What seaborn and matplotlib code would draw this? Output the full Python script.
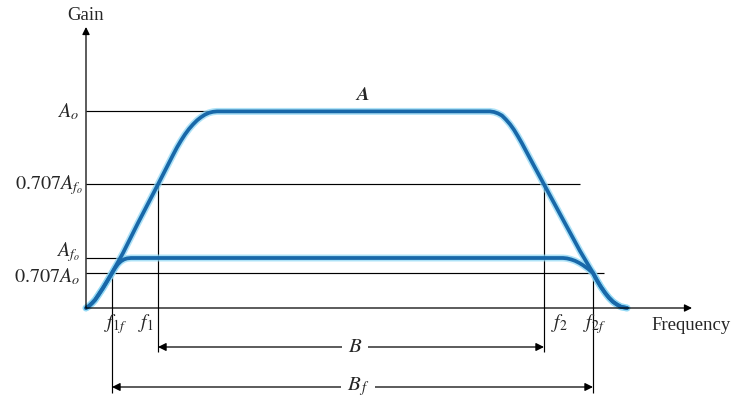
import matplotlib
matplotlib.use("Agg")
import matplotlib.pyplot as plt
import seaborn as sns
import pandas as pd

# Gain levels (arbitrary units, axis origin at 0)
level_names = ["A_o", "0.707A_fo", "A_fo", "0.707A_o"]
level_values = [9.83, 6.18, 2.5, 1.75]

# Frequency marks
freq_names = ["f1f", "f1", "f2", "f2f"]
freq_values = [2.6, 7.2, 45.8, 50.7]

# Open-loop response A
curve_a_freq = [0.0, 0.3, 0.6, 0.9, 1.2, 1.7, 2.1, 2.6, 3.7, 5.2, 7.2, 8.7,
                9.1, 9.5, 9.9, 10.3, 10.7, 11.1, 11.5, 11.9, 12.3, 12.7, 13.1,
                40.4, 40.8, 41.2, 41.6, 42.0, 42.4, 42.8, 43.2, 43.6, 44.4,
                45.8, 47.7, 49.4, 50.7, 51.1, 51.5, 51.9, 52.3, 52.7, 53.1,
                53.5, 54.1]
curve_a_gain = [0.0, 0.1, 0.24, 0.4, 0.62, 1.0, 1.33, 1.75, 2.75, 4.25, 6.18,
                7.65, 8.03, 8.37, 8.68, 8.95, 9.18, 9.38, 9.54, 9.67, 9.76,
                9.81, 9.83, 9.83, 9.8, 9.73, 9.62, 9.42, 9.19, 8.91, 8.58,
                8.23, 7.48, 6.18, 4.42, 2.85, 1.75, 1.38, 1.05, 0.76, 0.51,
                0.31, 0.17, 0.06, 0.0]

# Feedback response A_f
curve_f_freq = [0.0, 0.3, 0.6, 0.9, 1.2, 1.7, 2.1, 2.6, 2.9, 3.2, 3.5, 3.8,
                4.1, 4.5, 47.7, 48.1, 48.5, 48.9, 49.3, 49.7, 50.2, 50.7, 51.1,
                51.5, 51.9, 52.3, 52.7, 53.1, 53.5, 54.1]
curve_f_gain = [0.0, 0.1, 0.24, 0.4, 0.62, 1.0, 1.33, 1.75, 2.0, 2.2, 2.34,
                2.43, 2.48, 2.5, 2.5, 2.48, 2.43, 2.36, 2.26, 2.14, 1.96, 1.75,
                1.38, 1.05, 0.76, 0.51, 0.31, 0.17, 0.06, 0.0]

sns.set_theme(style="white")
plt.rcParams["font.family"] = ["Liberation Serif", "DejaVu Serif"]
plt.rcParams["mathtext.fontset"] = "stix"

fig = plt.figure(figsize=(7.32, 4.03), dpi=100)
ax = fig.add_axes([0, 0, 1, 1])

df_a = pd.DataFrame({"freq": curve_a_freq, "gain": curve_a_gain})
df_f = pd.DataFrame({"freq": curve_f_freq, "gain": curve_f_gain})

thin = dict(color="black", lw=0.85)

# Reference levels
lv = dict(zip(level_names, level_values))
fv = dict(zip(freq_names, freq_values))
ax.hlines(lv["A_o"], 0, 12.2, **thin)
ax.hlines(lv["0.707A_fo"], 0, 49.4, **thin)
ax.hlines(lv["A_fo"], 0, 4.7, **thin)
ax.hlines(lv["0.707A_o"], 0, 51.8, **thin)

# Cut-off frequency drop lines
ax.vlines(fv["f1f"], -4.25, lv["0.707A_o"], **thin)
ax.vlines(fv["f2f"], -4.25, lv["0.707A_o"], **thin)
ax.vlines(fv["f1"], -2.2, lv["0.707A_fo"], **thin)
ax.vlines(fv["f2"], -2.2, lv["0.707A_fo"], **thin)

# Response curves: soft halo under a dark core
for df in (df_f, df_a):
    sns.lineplot(data=df, x="freq", y="gain", sort=False, estimator=None,
                 ax=ax, color="#8ad6f4", lw=5.0, alpha=0.7, legend=False,
                 solid_joinstyle="round", solid_capstyle="round")
for df in (df_f, df_a):
    sns.lineplot(data=df, x="freq", y="gain", sort=False, estimator=None,
                 ax=ax, color="#1868a9", lw=2.7, legend=False,
                 solid_joinstyle="round", solid_capstyle="round")
ax.set_xlim(-8.6, 64.6)
ax.set_ylim(-4.75, 15.4)
ax.axis("off")

# Axes with arrowheads
ax_arrow = dict(arrowstyle="-|>", color="black", lw=0.9, shrinkA=0, shrinkB=0,
                mutation_scale=11)
ax.annotate("", xy=(0, 14.05), xytext=(0, 0), arrowprops=ax_arrow)
ax.annotate("", xy=(60.6, 0), xytext=(0, 0), arrowprops=ax_arrow)

ax.text(0, 14.65, "Gain", ha="center", va="center", fontsize=13.5)
ax.text(56.5, -0.85, "Frequency", ha="left", va="center", fontsize=13.5)

# Level labels
lab = dict(ha="right", va="baseline", fontsize=14.5)
ax.text(-0.75, 9.55, r"$A_o$", **lab)
ax.text(-0.3, 5.95, r"$0.707A_{f_o}$", **lab)
ax.text(-0.6, 2.6, r"$A_{f_o}$", **lab)
ax.text(-0.6, 1.3, r"$0.707A_o$", **lab)

# Frequency labels
flab = dict(ha="center", va="top", fontsize=14)
ax.text(2.9, -0.2, r"$f_{1f}$", **flab)
ax.text(6.0, -0.2, r"$f_1$", **flab)
ax.text(47.35, -0.2, r"$f_2$", **flab)
ax.text(50.8, -0.2, r"$f_{2f}$", **flab)

ax.text(27.6, 10.65, r"$\boldsymbol{A}$", ha="center", va="center", fontsize=14)

# Bandwidth dimension arrows
bw_arrow = dict(arrowstyle="<|-|>", color="black", lw=0.9, shrinkA=0,
                shrinkB=0, mutation_scale=12)
ax.annotate("", xy=(fv["f2"], -1.95), xytext=(fv["f1"], -1.95),
            arrowprops=bw_arrow)
ax.annotate("", xy=(fv["f2f"], -3.95), xytext=(fv["f1f"], -3.95),
            arrowprops=bw_arrow)
ax.text(26.9, -1.95, r"$B$", ha="center", va="center", fontsize=15,
        bbox=dict(facecolor="white", edgecolor="none", pad=4))
ax.text(27.2, -3.95, r"$B_{\,f}$", ha="center", va="center", fontsize=15,
        bbox=dict(facecolor="white", edgecolor="none", pad=4))

fig.savefig("out.png", dpi=100)
